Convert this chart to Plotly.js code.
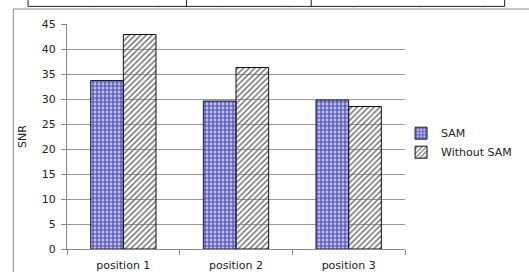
<!DOCTYPE html>
<html>
<head>
<meta charset="utf-8">
<script src="https://cdn.plot.ly/plotly-3.0.1.min.js"></script>
<style>html,body{margin:0;padding:0;background:#fff;}#chart{width:529px;height:272px;}</style>
</head>
<body>
<div id="chart"></div>
<script>
const categories = ["position 1", "position 2", "position 3"];
const samValues = [33.7, 29.6, 29.8];
const withoutSamValues = [42.9, 36.3, 28.5];
const seriesNames = ["SAM", "Without SAM"];
const yTicks = [0, 5, 10, 15, 20, 25, 30, 35, 40, 45];

// plot area in pixels
const L = 66.7, R = 411, T = 24.3, B = 249.3;
const px = x => (x - L) / (R - L);
const py = y => (B - y) / (B - T);
const FONT = "DejaVu Sans, Verdana, sans-serif";

const traces = [
  {
    type: "bar", name: seriesNames[0], x: categories, y: samValues,
    marker: {
      color: "rgba(130,130,215,0.85)",
      line: {color: "#1a1a40", width: 1},
      pattern: {shape: "+", fgcolor: "rgba(60,60,170,0.9)", bgcolor: "rgba(175,175,235,0.8)", size: 4, solidity: 0.5, fillmode: "replace"}
    },
    hoverinfo: "none"
  },
  {
    type: "bar", name: seriesNames[1], x: categories, y: withoutSamValues,
    marker: {
      color: "rgba(255,255,255,0)",
      line: {color: "#111", width: 1},
      pattern: {shape: "/", fgcolor: "#666", bgcolor: "rgba(255,255,255,0.0)", size: 4, solidity: 0.35, fillmode: "replace"}
    },
    hoverinfo: "none"
  }
];

const shapes = [];
// chart frame (gray)
shapes.push({type: "line", xref: "paper", yref: "paper", x0: px(12), x1: px(12), y0: py(9.3), y1: py(290), line: {color: "#8a8a8a", width: 1}});
shapes.push({type: "line", xref: "paper", yref: "paper", x0: px(12), x1: px(540), y0: py(9.3), y1: py(9.3), line: {color: "#8a8a8a", width: 1}});
// table lines above chart
shapes.push({type: "line", xref: "paper", yref: "paper", x0: px(27), x1: px(512.5), y0: py(6.7), y1: py(6.7), line: {color: "#222", width: 1}});
[27, 188.5, 315.5, 512.5].forEach(x => shapes.push({type: "line", xref: "paper", yref: "paper", x0: px(x), x1: px(x), y0: py(-2), y1: py(6.7), line: {color: "#222", width: 1}}));
// faint column ticks
[92, 158.5, 225, 292, 358.5, 425, 490].forEach(x => shapes.push({type: "line", xref: "paper", yref: "paper", x0: px(x), x1: px(x), y0: py(7.5), y1: py(9.3), line: {color: "#c8c8c8", width: 1}}));

const layout = {
  width: 529, height: 272,
  margin: {l: L, r: 529 - R, t: T, b: 272 - B, pad: 0},
  paper_bgcolor: "#fff", plot_bgcolor: "#fff",
  font: {family: FONT, size: 11, color: "#222"},
  barmode: "group", bargap: 0.42, bargroupgap: 0,
  showlegend: true,
  legend: {
    x: px(407), y: py(119), xanchor: "left", yanchor: "top",
    font: {family: FONT, size: 11, color: "#222"},
    itemwidth: 30, tracegroupgap: 0, bgcolor: "rgba(0,0,0,0)", borderwidth: 0
  },
  xaxis: {
    type: "category", showgrid: false, zeroline: false,
    showline: true, linecolor: "#8a8a8a", linewidth: 1,
    ticks: "outside", tickcolor: "#8a8a8a", ticklen: 5, tickson: "boundaries",
    ticklabelstandoff: 6,
    tickfont: {family: FONT, size: 11, color: "#222"},
    fixedrange: true, automargin: false
  },
  yaxis: {
    range: [0, 45], tickvals: yTicks, ticktext: yTicks.map(String),
    showgrid: true, gridcolor: "#9a9a9a", gridwidth: 1,
    zeroline: false, showline: true, linecolor: "#8a8a8a", linewidth: 1,
    ticks: "outside", tickcolor: "#8a8a8a", ticklen: 5, ticklabelstandoff: 3,
    tickfont: {family: FONT, size: 11, color: "#222"},
    title: {text: "SNR", font: {family: FONT, size: 11, color: "#222"}, standoff: 12},
    fixedrange: true, automargin: false
  },
  shapes: shapes
};

Plotly.newPlot("chart", traces, layout, {displayModeBar: false, staticPlot: true});
</script>
</body>
</html>
